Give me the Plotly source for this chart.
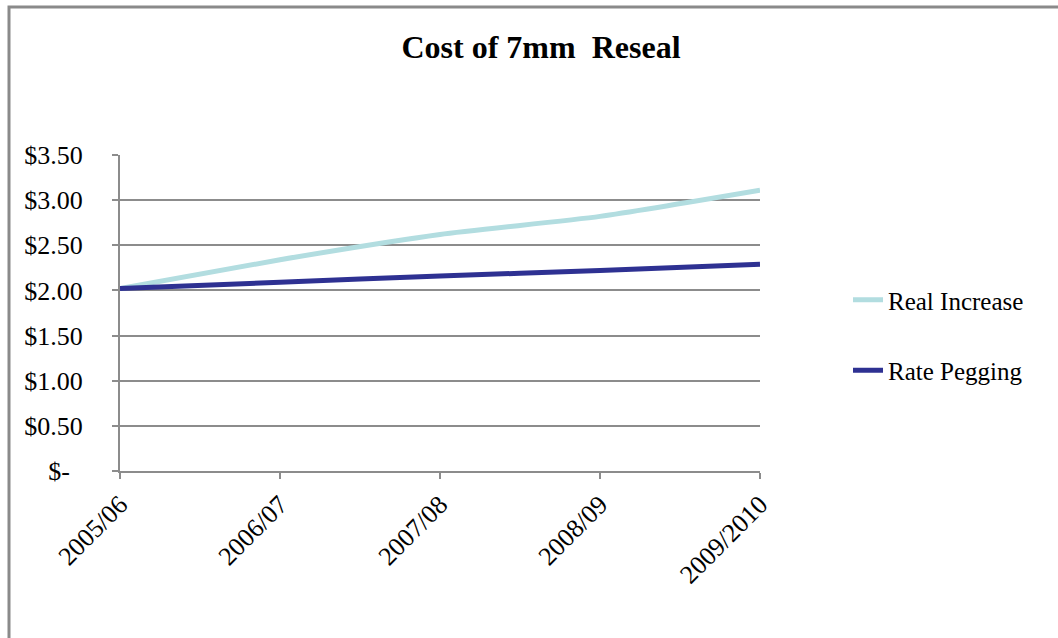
import plotly.graph_objects as go

categories = ["2005/06", "2006/07", "2007/08", "2008/09", "2009/2010"]
real_increase = [2.02, 2.34, 2.62, 2.82, 3.11]
rate_pegging = [2.02, 2.09, 2.16, 2.22, 2.29]
y_tickvals = [0, 0.5, 1.0, 1.5, 2.0, 2.5, 3.0, 3.5]
y_ticktext = ["$-\u00a0\u00a0", "$0.50", "$1.00", "$1.50", "$2.00", "$2.50", "$3.00", "$3.50"]

W, H = 1058, 638
L, R, T, B = 120, 760, 155, 471

FONT = "Liberation Serif"
GRID = "#8c8c8c"

fig = go.Figure()
fig.add_trace(go.Scatter(x=categories, y=real_increase, name="Real Increase",
                         mode="lines", line=dict(color="#B2DDE0", width=5, shape="spline", smoothing=0.6),
                         legendgroup="a"))
fig.add_trace(go.Scatter(x=categories, y=rate_pegging, name="Rate Pegging",
                         mode="lines", line=dict(color="#2E3192", width=5, shape="spline", smoothing=0.6),
                         legendgroup="b"))

def px2paper_x(px):
    return (px - L) / (R - L)

def px2paper_y(py):
    return (B - py) / (B - T)

fig.update_layout(
    width=W, height=H,
    margin=dict(l=L, r=W - R, t=T, b=H - B, pad=0),
    paper_bgcolor="white", plot_bgcolor="white",
    font=dict(family=FONT, color="#000000"),
    title=dict(text="<b>Cost of 7mm\u00a0 Reseal</b>", x=541 / W, xanchor="center",
               y=1 - 47 / H, yanchor="middle", yref="container",
               font=dict(family=FONT, size=32, color="#000000")),
    xaxis=dict(type="category", range=[0, 4], showgrid=False,
               showline=True, linecolor=GRID, linewidth=2,
               ticks="outside", ticklen=6, tickcolor=GRID, tickwidth=2,
               tickangle=-45, tickfont=dict(family=FONT, size=26, color="#000000"),
               ticklabelstandoff=0),
    yaxis=dict(range=[0, 3.5], tickvals=y_tickvals, ticktext=y_ticktext,
               showgrid=True, gridcolor=GRID, gridwidth=2,
               showline=True, linecolor=GRID, linewidth=2,
               ticks="outside", ticklen=6, tickcolor=GRID, tickwidth=2,
               tickfont=dict(family=FONT, size=26, color="#000000"),
               ticklabelstandoff=24, zeroline=False),
    legend=dict(x=px2paper_x(848), y=px2paper_y(277), xanchor="left", yanchor="top",
                font=dict(family=FONT, size=25, color="#000000"),
                tracegroupgap=35, bgcolor="rgba(0,0,0,0)"),
    shapes=[dict(type="rect", xref="paper", yref="paper",
                 x0=px2paper_x(9), x1=px2paper_x(1100),
                 y0=px2paper_y(700), y1=px2paper_y(7),
                 line=dict(color="#8a8a8a", width=3), fillcolor="rgba(0,0,0,0)", layer="below")],
)

fig.write_html("out.html")
